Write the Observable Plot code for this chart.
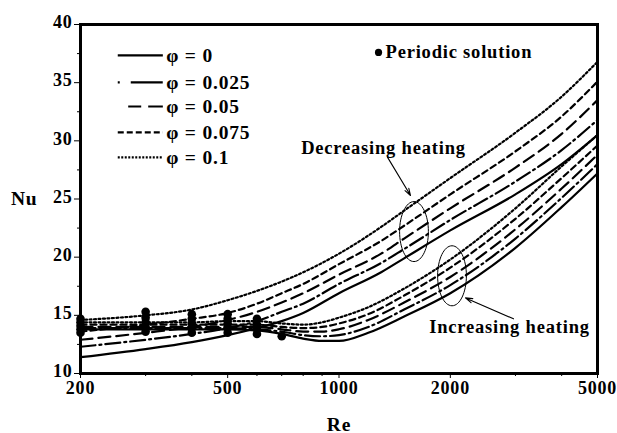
<!DOCTYPE html>
<html>
<head>
<meta charset="utf-8">
<script src="https://cdn.jsdelivr.net/npm/d3@7"></script>
<script src="https://cdn.jsdelivr.net/npm/@observablehq/plot@0.6"></script>
<style>
  html, body { margin: 0; padding: 0; background: #fff; }
  #chart svg { display: block; }
</style>
</head>
<body>
<div id="chart"></div>
<script>
// ---------- DATA ----------
const phiLabels = ["φ = 0", "φ = 0.025", "φ = 0.05", "φ = 0.075", "φ = 0.1"];

// Decreasing-heating branch (upper at high Re)
const reDec = [200, 300, 400, 500, 600, 700, 800, 1000, 1300, 1500, 2000, 3000, 4000, 5000];
const nuDec0   = [11.4, 12.1, 12.7, 13.3, 13.9, 14.5, 15.2, 16.9, 18.7, 19.9, 22.3, 25.4, 28.0, 30.5];
const nuDec025 = [12.3, 12.9, 13.4, 13.9, 14.5, 15.3, 16.0, 17.7, 19.5, 20.7, 23.2, 26.5, 29.2, 31.8];
const nuDec05  = [12.9, 13.5, 14.0, 14.6, 15.3, 16.1, 16.9, 18.5, 20.3, 21.6, 24.2, 27.7, 30.6, 33.5];
const nuDec075 = [13.6, 14.2, 14.7, 15.2, 16.0, 16.9, 17.7, 19.4, 21.4, 22.7, 25.4, 29.1, 32.1, 35.1];
const nuDec1   = [14.6, 15.0, 15.5, 16.3, 17.1, 17.9, 18.7, 20.3, 22.6, 24.0, 26.8, 30.7, 33.8, 36.8];

// Increasing-heating branch (lower at high Re)
const reInc = [200, 300, 400, 500, 600, 700, 800, 900, 1000, 1200, 1500, 2000, 3000, 4000, 5000];
const nuInc0   = [13.8, 13.8, 13.8, 13.8, 13.7, 13.4, 13.0, 12.8, 12.8, 13.5, 14.9, 16.9, 20.8, 24.3, 27.2];
const nuInc025 = [13.9, 13.9, 13.9, 13.9, 13.8, 13.6, 13.3, 13.2, 13.3, 14.0, 15.5, 17.6, 21.6, 25.1, 28.0];
const nuInc05  = [14.0, 14.0, 14.0, 14.0, 14.0, 13.8, 13.6, 13.6, 13.8, 14.6, 16.1, 18.3, 22.4, 25.9, 28.8];
const nuInc075 = [14.2, 14.2, 14.2, 14.2, 14.2, 14.0, 13.9, 14.0, 14.3, 15.1, 16.7, 19.1, 23.3, 26.8, 29.6];
const nuInc1   = [14.4, 14.4, 14.4, 14.5, 14.5, 14.3, 14.2, 14.4, 14.8, 15.7, 17.3, 19.8, 24.2, 27.8, 30.5];

// Periodic solutions
const perRe = [200, 200, 200, 200, 200, 300, 300, 300, 300, 300, 400, 400, 400, 400, 400,
               500, 500, 500, 500, 500, 600, 600, 600, 600, 700];
const perNu = [13.5, 13.8, 14.1, 14.4, 14.7, 13.6, 14.0, 14.4, 14.8, 15.3, 13.5, 13.9, 14.3, 14.7, 15.1,
               13.5, 13.9, 14.3, 14.7, 15.1, 13.4, 13.8, 14.2, 14.7, 13.2];

// Annotations
const annText = ["Decreasing heating", "Increasing heating"];
const annTextRe = [1319, 2891];
const annTextNu = [29.34, 13.95];
const ellRe = [1595, 2021];
const ellNu = [22.2, 18.4];
const arrFromRe = [1352, 2964];
const arrFromNu = [28.6, 14.7];
const arrToRe = [1561, 2198];
const arrToNu = [25.3, 16.5];
const periodicLabel = "Periodic solution";

const xTicks = [200, 500, 1000, 2000, 5000];
const xMinor = [300, 400, 600, 700, 800, 900, 3000, 4000];
const yTicks = [10, 15, 20, 25, 30, 35, 40];
const yMinor = [12.5, 17.5, 22.5, 27.5, 32.5, 37.5];

// ---------- BUILD ----------
const decSeries = [nuDec0, nuDec025, nuDec05, nuDec075, nuDec1];
const incSeries = [nuInc0, nuInc025, nuInc05, nuInc075, nuInc1];
const dashes = [undefined, "15,4,2,4", "12,6", "6,4", "2,2.5"];
const legendDashes = [undefined, "2,11,32", "13,7,15", "6,3", "2,1.5"];

function rowsFor(i) {
  const a = reDec.map((re, j) => ({Re: re, Nu: decSeries[i][j], branch: "dec"}));
  const b = reInc.map((re, j) => ({Re: re, Nu: incSeries[i][j], branch: "inc"}));
  return a.concat(b);
}
const periodic = perRe.map((re, j) => ({Re: re, Nu: perNu[j]}));
const ann = annText.map((t, j) => ({t, Re: annTextRe[j], Nu: annTextNu[j]}));
const ells = ellRe.map((re, j) => ({Re: re, Nu: ellNu[j]}));
const arrows = arrFromRe.map((re, j) => ({x1: re, y1: arrFromNu[j], x2: arrToRe[j], y2: arrToNu[j]}));

// legend layout (in axis units)
const legX1 = 253, legX2 = 335, legTextX = 341;
const legY = [37.34, 35.02, 32.95, 30.72, 28.57];
const legend = phiLabels.map((l, i) => ({l, y: legY[i], i}));

const ellipseSymbol = {
  draw(ctx, size) {
    const r = Math.sqrt(size / Math.PI);
    const rx = r * 0.48, ry = r, k = 0.5523;
    ctx.moveTo(rx, 0);
    ctx.bezierCurveTo(rx, k * ry, k * rx, ry, 0, ry);
    ctx.bezierCurveTo(-k * rx, ry, -rx, k * ry, -rx, 0);
    ctx.bezierCurveTo(-rx, -k * ry, -k * rx, -ry, 0, -ry);
    ctx.bezierCurveTo(k * rx, -ry, rx, -k * ry, rx, 0);
    ctx.closePath();
  }
};

const font = "'Liberation Serif', 'Times New Roman', serif";

const marks = [];
phiLabels.forEach((_, i) => {
  marks.push(Plot.line(rowsFor(i), {
    x: "Re", y: "Nu", z: "branch", stroke: "black", strokeWidth: 2.2,
    strokeDasharray: dashes[i], curve: "monotone-x"
  }));
});
marks.push(
  Plot.dot(periodic, {x: "Re", y: "Nu", r: 4.3, fill: "black", stroke: "none"}),
  Plot.dot(ells, {x: "Re", y: "Nu", r: 30, symbol: ellipseSymbol, fill: "none", stroke: "black", strokeWidth: 1}),
  Plot.arrow(arrows, {x1: "x1", y1: "y1", x2: "x2", y2: "y2", stroke: "black", strokeWidth: 1.1, headLength: 10, headAngle: 35}),
  Plot.text(ann, {x: "Re", y: "Nu", text: "t", fontSize: 18.5, fontWeight: "bold", fill: "black"}),
  Plot.dot([0], {x: () => 1279, y: () => 37.6, r: 3.6, fill: "black"}),
  Plot.text([periodicLabel], {x: () => 1336, y: () => 37.6, text: d => d, textAnchor: "start", fontSize: 18.5, fontWeight: "bold"}),
  // legend
  ...legend.map(d => Plot.ruleY([d.y], {x1: d.i === 2 ? 270 : legX1, x2: legX2, stroke: "black", strokeWidth: 2.2, strokeDasharray: legendDashes[d.i]})),
  Plot.text(legend, {x: () => legTextX, y: "y", text: "l", textAnchor: "start", fontSize: 19.5, fontWeight: "bold"}),
  // axes
  Plot.axisX(xTicks, {tickSize: 5, text: null, label: null}),
  Plot.text(xTicks, {x: d => d, frameAnchor: "bottom", dy: 20, text: d => String(d), fontSize: 18, fontWeight: "bold"}),
  Plot.axisX(xMinor, {tickSize: 3, text: null, label: null}),
  Plot.axisY(yTicks, {tickSize: 6, text: null, label: null}),
  Plot.text(yTicks, {y: d => d, frameAnchor: "left", dx: -8, dy: -2, textAnchor: "end", text: d => String(d), fontSize: 18, fontWeight: "bold"}),
  Plot.axisY(yMinor, {tickSize: 3, text: null, label: null}),
  Plot.text(["Nu"], {frameAnchor: "left", y: () => 25, text: d => d, textAnchor: "end", dx: -43, fontSize: 19.5, fontWeight: "bold"}),
  Plot.text(["Re"], {frameAnchor: "bottom", text: d => d, dy: 57, fontSize: 19.5, fontWeight: "bold"}),
  Plot.frame({stroke: "black", strokeWidth: 3})
);

const chart = Plot.plot({
  width: 617,
  height: 433,
  marginLeft: 80,
  marginRight: 20,
  marginTop: 24,
  marginBottom: 60,
  style: {fontFamily: font, background: "white", color: "black", overflow: "visible", letterSpacing: "0.8px"},
  x: {type: "log", domain: [200, 5000]},
  y: {domain: [10, 40]},
  marks
});
document.getElementById("chart").appendChild(chart);
</script>
</body>
</html>
